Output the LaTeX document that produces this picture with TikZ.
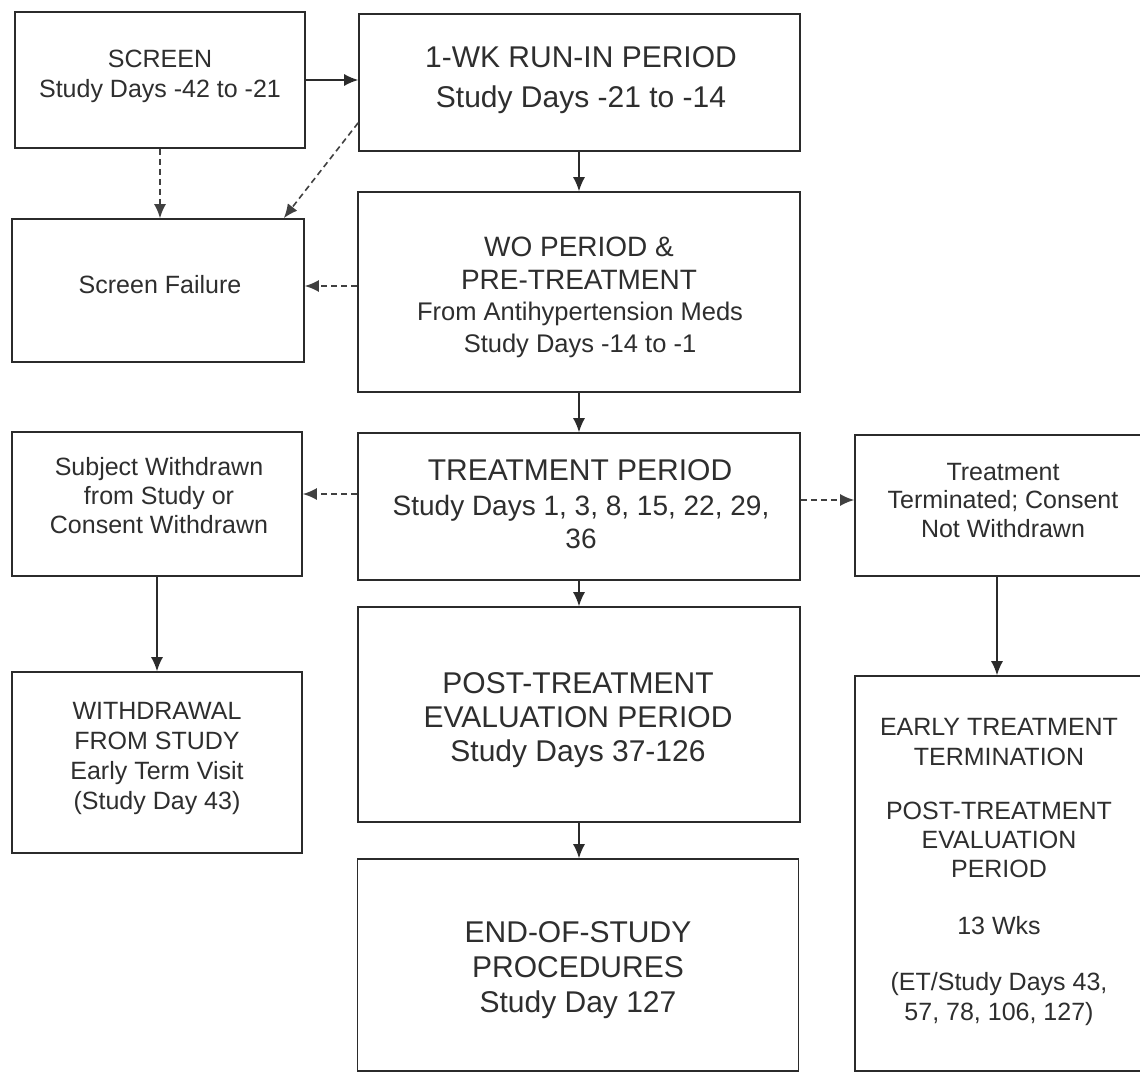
\documentclass[tikz,border=0pt]{standalone}
\usepackage{fontspec}
\setmainfont{Liberation Sans}
\usetikzlibrary{arrows.meta,calc}
\definecolor{ink}{HTML}{2B2B2B}
\definecolor{txtc}{HTML}{2E2E2E}
\definecolor{dashc}{HTML}{404040}
\newcommand\fsz[2]{\fontsize{#1}{#2}\selectfont}
\begin{document}
\begin{tikzpicture}[x=1pt,y=-1pt,
  box/.style={draw=ink, line width=1.7pt, rectangle, inner sep=0pt},
  txt/.style={text=txtc, align=center, inner sep=0pt, anchor=north},
  arr/.style={draw=ink, line width=1.3pt, -{Latex[length=14pt,width=12pt]}},
  darr/.style={draw=dashc, line width=1.6pt, dash pattern=on 6pt off 4pt, -{Latex[length=14pt,width=12pt]}}
]
\useasboundingbox (0,0) rectangle (1140,1073);
\fill[white] (0,0) rectangle (1140,1073);
\clip (0,0) rectangle (1140,1073);

% boxes
\node[box, minimum width=290pt, minimum height=136pt] (scr) at (160,80) {};
\node[box, minimum width=441pt, minimum height=137pt] (run) at (579.5,82.5) {};
\node[box, minimum width=292pt, minimum height=143pt] (fail) at (158,290.5) {};
\node[box, minimum width=442pt, minimum height=200pt] (wo) at (579,292) {};
\node[box, minimum width=290pt, minimum height=144pt] (subj) at (157,504) {};
\node[box, minimum width=442pt, minimum height=147pt] (treat) at (579,506.5) {};
\node[box, minimum width=305pt, minimum height=141pt] (term) at (1007.5,505.5) {};
\node[box, minimum width=290pt, minimum height=181pt] (wd) at (157,762.5) {};
\node[box, minimum width=442pt, minimum height=215pt] (post) at (579,714.5) {};
\node[box, minimum width=441pt, minimum height=212pt] (eos) at (578,965) {};
\node[box, minimum width=305pt, minimum height=395pt] (early) at (1007.5,873.5) {};

% texts
\node[txt, font=\fsz{25}{30}] (scrT) at (160,50) {SCREEN\\Study Days -42 to -21};
\node[txt, font=\fsz{30}{40}] (runT) at (581,46) {1-WK RUN-IN PERIOD\\Study Days -21 to -14};
\node[txt, font=\fsz{25}{30}] (failT) at (160,275) {Screen Failure};
\node[txt, font=\fsz{28}{33.3}] (woT1) at (579,236.7) {WO PERIOD \&\\PRE-TREATMENT};
\node[txt, font=\fsz{25.5}{32}] (woT2) at (580,301.7) {From Antihypertension Meds\\Study Days -14 to -1};
\node[txt, font=\fsz{25}{29}] (subjT) at (159,457) {Subject Withdrawn\\from Study or\\Consent Withdrawn};
\node[txt, font=\fsz{30}{34}] (treatT1) at (580,459.3) {TREATMENT PERIOD};
\node[txt, font=\fsz{28}{33}] (treatT2) at (581,495) {Study Days 1, 3, 8, 15, 22, 29,\\36};
\node[txt, font=\fsz{25}{28.5}] (termT) at (1003,463) {Treatment\\Terminated; Consent\\Not Withdrawn};
\node[txt, font=\fsz{25}{30}] (wdT) at (157,702) {WITHDRAWAL\\FROM STUDY\\Early Term Visit\\(Study Day 43)};
\node[txt, font=\fsz{30}{34}] (postT) at (578,672.3) {POST-TREATMENT\\EVALUATION PERIOD\\Study Days 37-126};
\node[txt, font=\fsz{30}{35}] (eosT) at (578,921.3) {END-OF-STUDY\\PROCEDURES\\Study Day 127};
\node[txt, font=\fsz{25}{30}] (earlyT1) at (999,718) {EARLY TREATMENT\\TERMINATION};
\node[txt, font=\fsz{25}{29}] (earlyT2) at (999,802) {POST-TREATMENT\\EVALUATION\\PERIOD};
\node[txt, font=\fsz{25}{30}] (earlyT3) at (999,916) {13 Wks};
\node[txt, font=\fsz{25}{30}] (earlyT4) at (999,972) {(ET/Study Days 43,\\57, 78, 106, 127)};

% connectors
\draw[arr] (scr.east) -- (scr.east -| run.west);
\draw[darr] (scr.south) -- (scr.south |- fail.north);
\coordinate (d1) at ([yshift=29pt]run.south west);
\coordinate (d2) at ([xshift=-21pt]fail.north east);
\draw[darr] (d1) -- (d2);
\draw[arr] (wo.north |- run.south) -- (wo.north);
\coordinate (d3) at ([yshift=6pt]wo.west);
\draw[darr] (d3) -- (d3 -| fail.east);
\draw[arr] (wo.south) -- (treat.north);
\coordinate (d4) at ([yshift=12.5pt]treat.west);
\draw[darr] (d4) -- (d4 -| subj.east);
\coordinate (d5) at ([yshift=6.5pt]treat.east);
\draw[darr] (d5) -- (d5 -| term.west);
\draw[arr] (treat.south) -- (treat.south |- post.north);
\draw[arr] (subj.south) -- (subj.south |- wd.north);
\coordinate (d6) at ([xshift=-10.5pt]term.south);
\draw[arr] (d6) -- (d6 |- early.north);
\draw[arr] (post.south) -- (post.south |- eos.north);
\end{tikzpicture}
\end{document}
